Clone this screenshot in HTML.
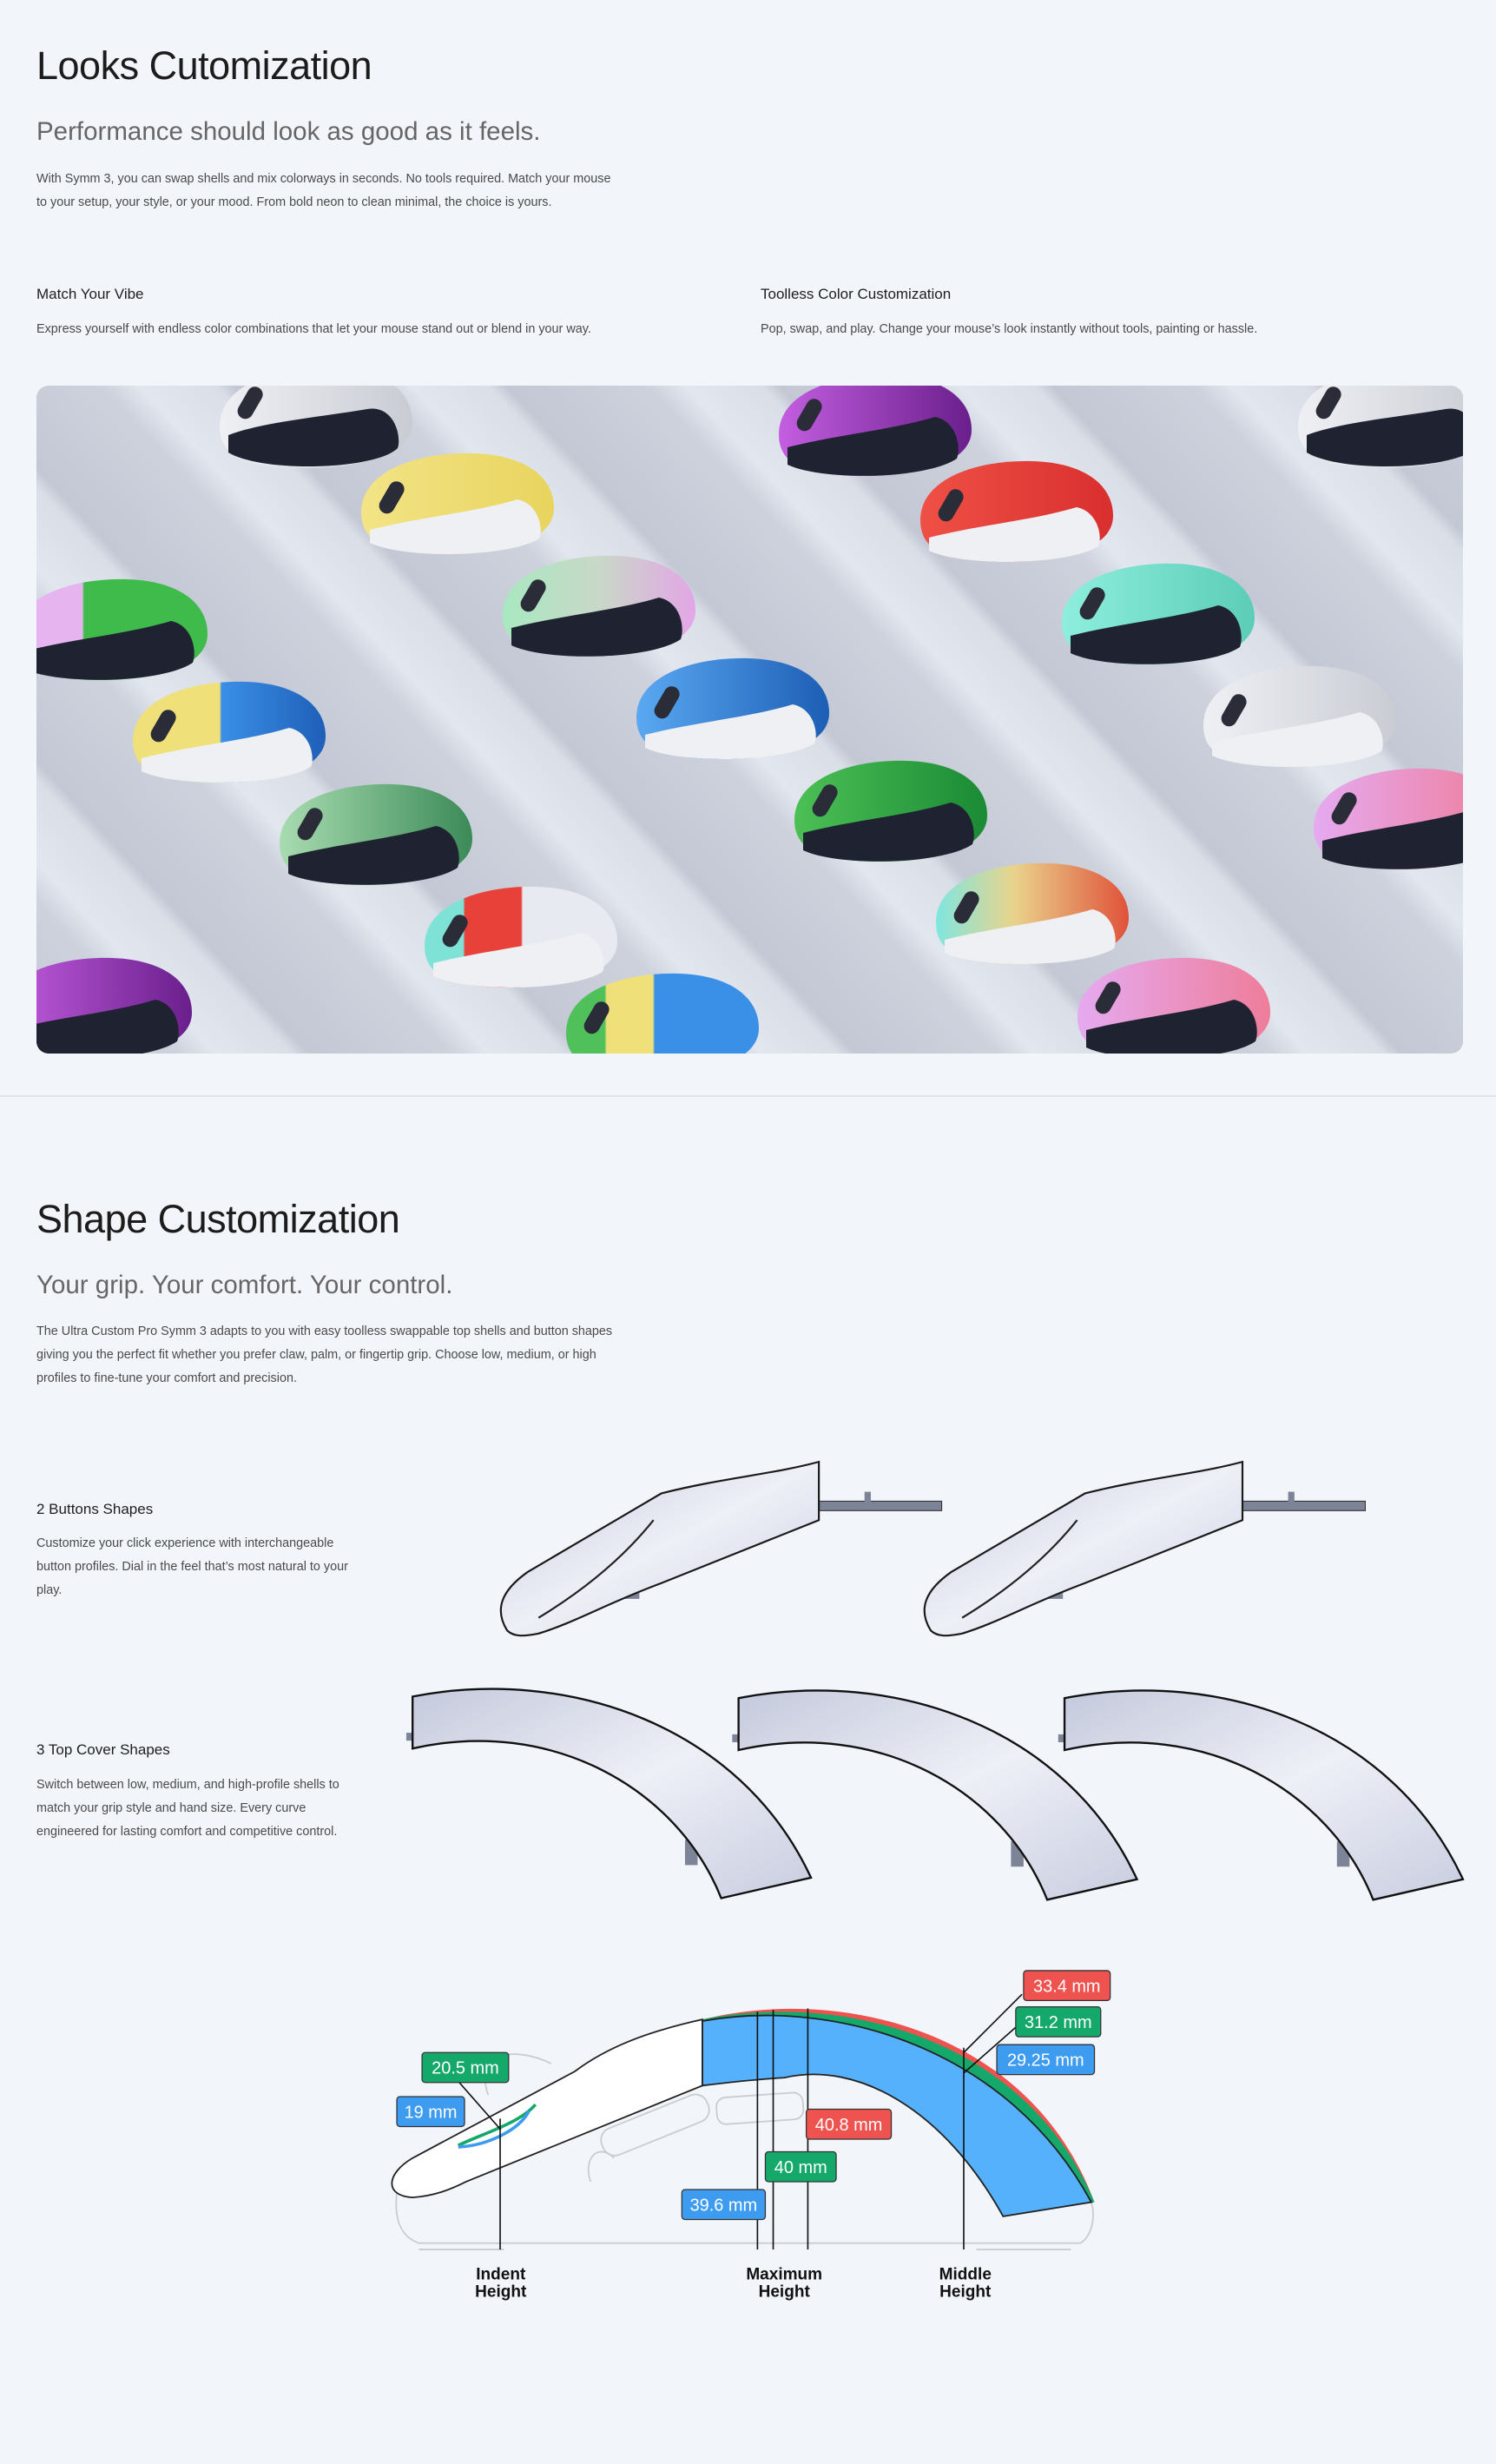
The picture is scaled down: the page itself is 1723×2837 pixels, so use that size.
<!DOCTYPE html>
<html><head><meta charset="utf-8">
<style>
html,body{margin:0;padding:0;}
body{width:1723px;height:2837px;background:#f2f5fa;position:relative;overflow:hidden;font-family:"Liberation Sans",sans-serif;color:#1e1e1e;}
.t{position:absolute;left:42px;white-space:nowrap;}
.h1{font-size:45px;line-height:56px;font-weight:500;letter-spacing:-0.5px;color:#1c1c1c;}
.h2{font-size:29.5px;line-height:40px;color:#666;}
.p{font-size:14.4px;line-height:27px;color:#4a4a4a;}
.h3{font-size:17px;line-height:24px;color:#1e1e1e;}
.d{font-size:14.4px;line-height:20px;color:#4a4a4a;}
#photo{position:absolute;left:42px;top:444px;width:1643px;height:769px;border-radius:14px;overflow:hidden;
background:repeating-linear-gradient(47deg,#c3c8d4 0px,#cdd2dd 120px,#e2e6ee 150px,#dadee7 215px,#c3c8d4 230px);}
#photo svg{position:absolute;left:0;top:0;}
#art{position:absolute;left:0;top:0;}
.hr{position:absolute;left:0;top:1261px;width:1723px;height:2px;background:#e1e4ea;}
</style></head><body>

<div class="t h1" style="top:48px">Looks Cutomization</div>
<div class="t h2" style="top:132px">Performance should look as good as it feels.</div>
<div class="t p" style="top:193px">With Symm 3, you can swap shells and mix colorways in seconds. No tools required. Match your mouse<br>to your setup, your style, or your mood. From bold neon to clean minimal, the choice is yours.</div>
<div class="t h3" style="top:327px">Match Your Vibe</div>
<div class="t d" style="top:369px">Express yourself with endless color combinations that let your mouse stand out or blend in your way.</div>
<div class="t h3" style="top:327px;left:876px">Toolless Color Customization</div>
<div class="t d" style="top:369px;left:876px">Pop, swap, and play. Change your mouse’s look instantly without tools, painting or hassle.</div>

<div id="photo">
<svg width="1643" height="769" viewBox="0 0 1643 769">
<defs>
<linearGradient id="mp" x1="0" x2="1"><stop offset="0" stop-color="#a8e8c0"/><stop offset="0.5" stop-color="#c9d8c8"/><stop offset="1" stop-color="#e3a6e6"/></linearGradient>
<linearGradient id="or" x1="0" x2="1"><stop offset="0" stop-color="#7fe6e0"/><stop offset="0.4" stop-color="#e9d48c"/><stop offset="1" stop-color="#e0523a"/></linearGradient>
<linearGradient id="pg" x1="0" x2="1"><stop offset="0.35" stop-color="#e6b4ef"/><stop offset="0.36" stop-color="#3fbb4c"/></linearGradient>
<linearGradient id="yb" x1="0" x2="1"><stop offset="0.45" stop-color="#efe07a"/><stop offset="0.46" stop-color="#3a8fe6"/><stop offset="1" stop-color="#1f5fb8"/></linearGradient>
<linearGradient id="rt" x1="0" x2="1"><stop offset="0.2" stop-color="#7ee3d6"/><stop offset="0.21" stop-color="#e8413a"/><stop offset="0.5" stop-color="#e8413a"/><stop offset="0.51" stop-color="#e7eaf0"/></linearGradient>
<linearGradient id="gyb" x1="0" x2="1"><stop offset="0.2" stop-color="#4fc05a"/><stop offset="0.21" stop-color="#efe07a"/><stop offset="0.45" stop-color="#efe07a"/><stop offset="0.46" stop-color="#3a8fe6"/></linearGradient>
<linearGradient id="pu" x1="0" x2="1"><stop offset="0" stop-color="#c35ee0"/><stop offset="1" stop-color="#6a1f8c"/></linearGradient>
<linearGradient id="pk" x1="0" x2="1"><stop offset="0" stop-color="#e6aaf0"/><stop offset="1" stop-color="#ee7d9a"/></linearGradient>
<linearGradient id="sg" x1="0" x2="1"><stop offset="0" stop-color="#a8dcb0"/><stop offset="1" stop-color="#3c8a58"/></linearGradient>
<linearGradient id="wh" x1="0" x2="1"><stop offset="0" stop-color="#eef0f4"/><stop offset="1" stop-color="#c9ccd3"/></linearGradient>
<linearGradient id="bl" x1="0" x2="1"><stop offset="0" stop-color="#5aa8f2"/><stop offset="1" stop-color="#1d5eb5"/></linearGradient>
<linearGradient id="gr" x1="0" x2="1"><stop offset="0" stop-color="#4cc055"/><stop offset="1" stop-color="#1a8a35"/></linearGradient>
<linearGradient id="rd" x1="0" x2="1"><stop offset="0" stop-color="#ef5045"/><stop offset="1" stop-color="#d92f2f"/></linearGradient>
<linearGradient id="te" x1="0" x2="1"><stop offset="0" stop-color="#8eeedd"/><stop offset="1" stop-color="#5ccdb8"/></linearGradient>
<linearGradient id="ye" x1="0" x2="1"><stop offset="0" stop-color="#f3e486"/><stop offset="1" stop-color="#e8d45e"/></linearGradient>
<g id="wheel"><rect x="-10" y="-22" width="18" height="40" rx="9" fill="#2a2d38" transform="rotate(30)"/></g>
</defs>
<g id="mice">
<g transform="translate(321,37)"><path d="M-110,10 C-110,-40 -40,-60 20,-58 C80,-56 112,-30 112,5 C112,40 60,58 -10,58 C-80,58 -110,45 -110,10Z" fill="url(#wh)"/><path d="M-100,20 C-60,5 0,0 60,-10 C90,-15 100,20 95,35 C70,60 -60,64 -100,40Z" fill="#1f2230"/><use href="#wheel" x="-75" y="-15"/></g>
<g transform="translate(484,136)"><path d="M-110,10 C-110,-40 -40,-60 20,-58 C80,-56 112,-30 112,5 C112,40 60,58 -10,58 C-80,58 -110,45 -110,10Z" fill="url(#ye)"/><path d="M-100,30 C-40,15 20,10 70,-5 C95,0 100,30 95,40 C60,62 -60,64 -100,45Z" fill="#eef0f4"/><use href="#wheel" x="-75" y="-5"/></g>
<g transform="translate(647,254)"><path d="M-110,10 C-110,-40 -40,-60 20,-58 C80,-56 112,-30 112,5 C112,40 60,58 -10,58 C-80,58 -110,45 -110,10Z" fill="url(#mp)"/><path d="M-100,25 C-40,10 20,5 70,-10 C95,-5 100,25 95,38 C60,62 -60,64 -100,45Z" fill="#1f2230"/><use href="#wheel" x="-75" y="-10"/></g>
<g transform="translate(85,281)"><path d="M-110,10 C-110,-40 -40,-60 20,-58 C80,-56 112,-30 112,5 C112,40 60,58 -10,58 C-80,58 -110,45 -110,10Z" fill="url(#pg)"/><path d="M-100,25 C-40,10 20,5 70,-10 C95,-5 100,25 95,38 C60,62 -60,64 -100,45Z" fill="#1f2230"/></g>
<g transform="translate(221,399)"><path d="M-110,10 C-110,-40 -40,-60 20,-58 C80,-56 112,-30 112,5 C112,40 60,58 -10,58 C-80,58 -110,45 -110,10Z" fill="url(#yb)"/><path d="M-100,30 C-40,15 20,10 70,-5 C95,0 100,30 95,40 C60,62 -60,64 -100,45Z" fill="#eef0f4"/><use href="#wheel" x="-75" y="-5"/></g>
<g transform="translate(801,372)"><path d="M-110,10 C-110,-40 -40,-60 20,-58 C80,-56 112,-30 112,5 C112,40 60,58 -10,58 C-80,58 -110,45 -110,10Z" fill="url(#bl)"/><path d="M-100,30 C-40,15 20,10 70,-5 C95,0 100,30 95,40 C60,62 -60,64 -100,45Z" fill="#eef0f4"/><use href="#wheel" x="-75" y="-5"/></g>
<g transform="translate(390,517)"><path d="M-110,10 C-110,-40 -40,-60 20,-58 C80,-56 112,-30 112,5 C112,40 60,58 -10,58 C-80,58 -110,45 -110,10Z" fill="url(#sg)"/><path d="M-100,25 C-40,10 20,5 70,-10 C95,-5 100,25 95,38 C60,62 -60,64 -100,45Z" fill="#1f2230"/><use href="#wheel" x="-75" y="-10"/></g>
<g transform="translate(557,635)"><path d="M-110,10 C-110,-40 -40,-60 20,-58 C80,-56 112,-30 112,5 C112,40 60,58 -10,58 C-80,58 -110,45 -110,10Z" fill="url(#rt)"/><path d="M-100,30 C-40,15 20,10 70,-5 C95,0 100,30 95,40 C60,62 -60,64 -100,45Z" fill="#eef0f4"/><use href="#wheel" x="-75" y="-5"/></g>
<g transform="translate(67,717)"><path d="M-110,10 C-110,-40 -40,-60 20,-58 C80,-56 112,-30 112,5 C112,40 60,58 -10,58 C-80,58 -110,45 -110,10Z" fill="url(#pu)"/><path d="M-100,25 C-40,10 20,5 70,-10 C95,-5 100,25 95,38 C60,62 -60,64 -100,45Z" fill="#1f2230"/></g>
<g transform="translate(720,735)"><path d="M-110,10 C-110,-40 -40,-60 20,-58 C80,-56 112,-30 112,5 C112,40 60,58 -10,58 C-80,58 -110,45 -110,10Z" fill="url(#gyb)"/><use href="#wheel" x="-75" y="-5"/></g>
<g transform="translate(965,46)"><path d="M-110,10 C-110,-40 -40,-60 20,-58 C80,-56 112,-30 112,5 C112,40 60,58 -10,58 C-80,58 -110,45 -110,10Z" fill="url(#pu)"/><path d="M-100,25 C-40,10 20,5 70,-10 C95,-5 100,25 95,38 C60,62 -60,64 -100,45Z" fill="#1f2230"/><use href="#wheel" x="-75" y="-10"/></g>
<g transform="translate(1128,145)"><path d="M-110,10 C-110,-40 -40,-60 20,-58 C80,-56 112,-30 112,5 C112,40 60,58 -10,58 C-80,58 -110,45 -110,10Z" fill="url(#rd)"/><path d="M-100,30 C-40,15 20,10 70,-5 C95,0 100,30 95,40 C60,62 -60,64 -100,45Z" fill="#eef0f4"/><use href="#wheel" x="-75" y="-5"/></g>
<g transform="translate(1291,263)"><path d="M-110,10 C-110,-40 -40,-60 20,-58 C80,-56 112,-30 112,5 C112,40 60,58 -10,58 C-80,58 -110,45 -110,10Z" fill="url(#te)"/><path d="M-100,25 C-40,10 20,5 70,-10 C95,-5 100,25 95,38 C60,62 -60,64 -100,45Z" fill="#1f2230"/><use href="#wheel" x="-75" y="-10"/></g>
<g transform="translate(1454,381)"><path d="M-110,10 C-110,-40 -40,-60 20,-58 C80,-56 112,-30 112,5 C112,40 60,58 -10,58 C-80,58 -110,45 -110,10Z" fill="url(#wh)"/><path d="M-100,30 C-40,15 20,10 70,-5 C95,0 100,30 95,40 C60,62 -60,64 -100,45Z" fill="#eef0f4"/><use href="#wheel" x="-75" y="-5"/></g>
<g transform="translate(983,490)"><path d="M-110,10 C-110,-40 -40,-60 20,-58 C80,-56 112,-30 112,5 C112,40 60,58 -10,58 C-80,58 -110,45 -110,10Z" fill="url(#gr)"/><path d="M-100,25 C-40,10 20,5 70,-10 C95,-5 100,25 95,38 C60,62 -60,64 -100,45Z" fill="#1f2230"/><use href="#wheel" x="-75" y="-10"/></g>
<g transform="translate(1146,608)"><path d="M-110,10 C-110,-40 -40,-60 20,-58 C80,-56 112,-30 112,5 C112,40 60,58 -10,58 C-80,58 -110,45 -110,10Z" fill="url(#or)"/><path d="M-100,30 C-40,15 20,10 70,-5 C95,0 100,30 95,40 C60,62 -60,64 -100,45Z" fill="#eef0f4"/><use href="#wheel" x="-75" y="-5"/></g>
<g transform="translate(1309,717)"><path d="M-110,10 C-110,-40 -40,-60 20,-58 C80,-56 112,-30 112,5 C112,40 60,58 -10,58 C-80,58 -110,45 -110,10Z" fill="url(#pk)"/><path d="M-100,25 C-40,10 20,5 70,-10 C95,-5 100,25 95,38 C60,62 -60,64 -100,45Z" fill="#1f2230"/><use href="#wheel" x="-75" y="-10"/></g>
<g transform="translate(1563,37)"><path d="M-110,10 C-110,-40 -40,-60 20,-58 C80,-56 112,-30 112,5 C112,40 60,58 -10,58 C-80,58 -110,45 -110,10Z" fill="url(#wh)"/><path d="M-100,20 C-60,5 0,0 60,-10 C90,-15 100,20 95,35 C70,60 -60,64 -100,40Z" fill="#1f2230"/><use href="#wheel" x="-75" y="-15"/></g>
<g transform="translate(1581,499)"><path d="M-110,10 C-110,-40 -40,-60 20,-58 C80,-56 112,-30 112,5 C112,40 60,58 -10,58 C-80,58 -110,45 -110,10Z" fill="url(#pk)"/><path d="M-100,25 C-40,10 20,5 70,-10 C95,-5 100,25 95,38 C60,62 -60,64 -100,45Z" fill="#1f2230"/><use href="#wheel" x="-75" y="-10"/></g>
</g>
</svg>
</div>

<div class="hr"></div>

<div class="t h1" style="top:1376px">Shape Customization</div>
<div class="t h2" style="top:1460px">Your grip. Your comfort. Your control.</div>
<div class="t p" style="top:1520px">The Ultra Custom Pro Symm 3 adapts to you with easy toolless swappable top shells and button shapes<br>giving you the perfect fit whether you prefer claw, palm, or fingertip grip. Choose low, medium, or high<br>profiles to fine-tune your comfort and precision.</div>
<div class="t h3" style="top:1726px">2 Buttons Shapes</div>
<div class="t p" style="top:1764px">Customize your click experience with interchangeable<br>button profiles. Dial in the feel that’s most natural to your<br>play.</div>
<div class="t h3" style="top:2003px">3 Top Cover Shapes</div>
<div class="t p" style="top:2042px">Switch between low, medium, and high-profile shells to<br>match your grip style and hand size. Every curve<br>engineered for lasting comfort and competitive control.</div>

<svg id="art" width="1723" height="2837" viewBox="0 0 950 1564.2">
<defs>
<linearGradient id="sh" x1="0" y1="0" x2="1" y2="1"><stop offset="0" stop-color="#c4c9dc"/><stop offset="0.5" stop-color="#eef0f7"/><stop offset="1" stop-color="#c8cde0"/></linearGradient>
<g id="btn">
<rect x="520" y="953" width="78" height="6" fill="#7d8498" stroke="#333" stroke-width="0.6"/>
<rect x="549" y="947" width="4" height="8" fill="#7d8498"/>
<rect x="390" y="1005" width="16" height="10" fill="#7d8498"/>
<path d="M322,1035 C314,1022 318,1010 335,998 L420,948 C460,938 490,936 520,928 L520,965 L420,1005 C385,1018 365,1030 342,1037 C332,1039 326,1039 322,1035Z" fill="url(#sh)" stroke="#1a1a1a" stroke-width="1.2"/>
<path d="M342,1027 C370,1010 395,990 415,965" fill="none" stroke="#222" stroke-width="1.2"/>
</g>
<g id="arc">
<rect x="258" y="1100" width="5" height="5" fill="#7d8498"/>
<rect x="435" y="1168" width="8" height="16" fill="#7d8498"/>
<path d="M262,1077 C360,1058 470,1095 515,1192 L458,1205 C430,1135 350,1090 262,1110Z" fill="url(#sh)" stroke="#111" stroke-width="1.3"/>
</g>
</defs>
<use href="#btn"/>
<use href="#btn" x="269"/>
<use href="#arc"/>
<use href="#arc" x="207" y="1"/>
<use href="#arc" x="414" y="1"/>

<g fill="none" stroke="#c9ccd4" stroke-width="1">
<path d="M252,1392 C250,1410 255,1420 266,1424 L686,1424 C693,1420 696,1408 693,1398"/>
<path d="M266,1428 L320,1428 M620,1428 L680,1428"/>
<rect x="380" y="1340" width="72" height="18" rx="8" transform="rotate(-22 416 1349)"/>
<rect x="455" y="1330" width="55" height="17" rx="6" transform="rotate(-4 482 1338)"/>
<path d="M310,1330 C300,1300 330,1300 350,1310"/>
<path d="M375,1385 C370,1370 380,1360 390,1370"/>
</g>
<path d="M446,1282 C535,1260 655,1290 695,1398 L637,1407 C600,1340 545,1308 498,1319 C480,1320 462,1322 446,1324Z" fill="#ee5350"/>
<path d="M446,1282 C535,1264 652,1294 695,1398 L637,1407 C600,1340 545,1308 498,1319 C480,1320 462,1322 446,1324Z" fill="#14a86b"/>
<path d="M446,1283 C530,1268 640,1300 693,1398 L637,1407 C600,1340 545,1308 498,1319 C480,1320 462,1322 446,1324Z" fill="#55b1fb" stroke="#222" stroke-width="1"/>
<path d="M446,1282 C410,1290 385,1300 365,1315 L262,1370 C245,1380 244,1394 262,1395 C276,1394 286,1390 296,1385 L446,1324Z" fill="#fff" stroke="#222" stroke-width="1"/>
<path d="M291,1362 C305,1355 330,1348 340,1336" fill="none" stroke="#14a86b" stroke-width="2"/>
<path d="M291,1363 C310,1362 330,1352 336,1340" fill="none" stroke="#3d9bf0" stroke-width="2"/>
<g stroke="#111" stroke-width="0.9">
<line x1="317.6" y1="1345" x2="317.6" y2="1428"/>
<line x1="481" y1="1277" x2="481" y2="1428"/>
<line x1="491" y1="1276" x2="491" y2="1428"/>
<line x1="513" y1="1275" x2="513" y2="1428"/>
<line x1="612" y1="1300" x2="612" y2="1428"/>
<line x1="289" y1="1319" x2="318" y2="1352"/>
<line x1="649" y1="1266" x2="612" y2="1303"/>
<line x1="645" y1="1287" x2="612" y2="1316"/>
</g>
<g font-family="Liberation Sans, sans-serif" font-size="11" fill="#fff" text-anchor="middle" stroke-width="0.7">
<rect x="650" y="1251" width="55" height="19" rx="2" fill="#ef5350" stroke="#333"/><text x="677.5" y="1264.5">33.4 mm</text>
<rect x="645" y="1274" width="54" height="19" rx="2" fill="#14a86b" stroke="#333"/><text x="672" y="1287.5">31.2 mm</text>
<rect x="633" y="1298" width="62" height="19" rx="2" fill="#3d9bf0" stroke="#333"/><text x="664" y="1311.5">29.25 mm</text>
<rect x="512" y="1339" width="54" height="19" rx="2" fill="#ef5350" stroke="#333"/><text x="539" y="1352.5">40.8 mm</text>
<rect x="486" y="1366" width="45" height="19" rx="2" fill="#14a86b" stroke="#333"/><text x="508.5" y="1379.5">40 mm</text>
<rect x="433" y="1390" width="53" height="19" rx="2" fill="#3d9bf0" stroke="#333"/><text x="459.5" y="1403.5">39.6 mm</text>
<rect x="268" y="1303" width="55" height="19" rx="2" fill="#14a86b" stroke="#333"/><text x="295.5" y="1316.5">20.5 mm</text>
<rect x="252" y="1331" width="43" height="19" rx="2" fill="#3d9bf0" stroke="#333"/><text x="273.5" y="1344.5">19 mm</text>
</g>
<g font-family="Liberation Sans, sans-serif" font-size="10.5" font-weight="bold" fill="#111" text-anchor="middle">
<text x="318" y="1447">Indent</text><text x="318" y="1458">Height</text>
<text x="498" y="1447">Maximum</text><text x="498" y="1458">Height</text>
<text x="613" y="1447">Middle</text><text x="613" y="1458">Height</text>
</g>
</svg>
</body></html>
